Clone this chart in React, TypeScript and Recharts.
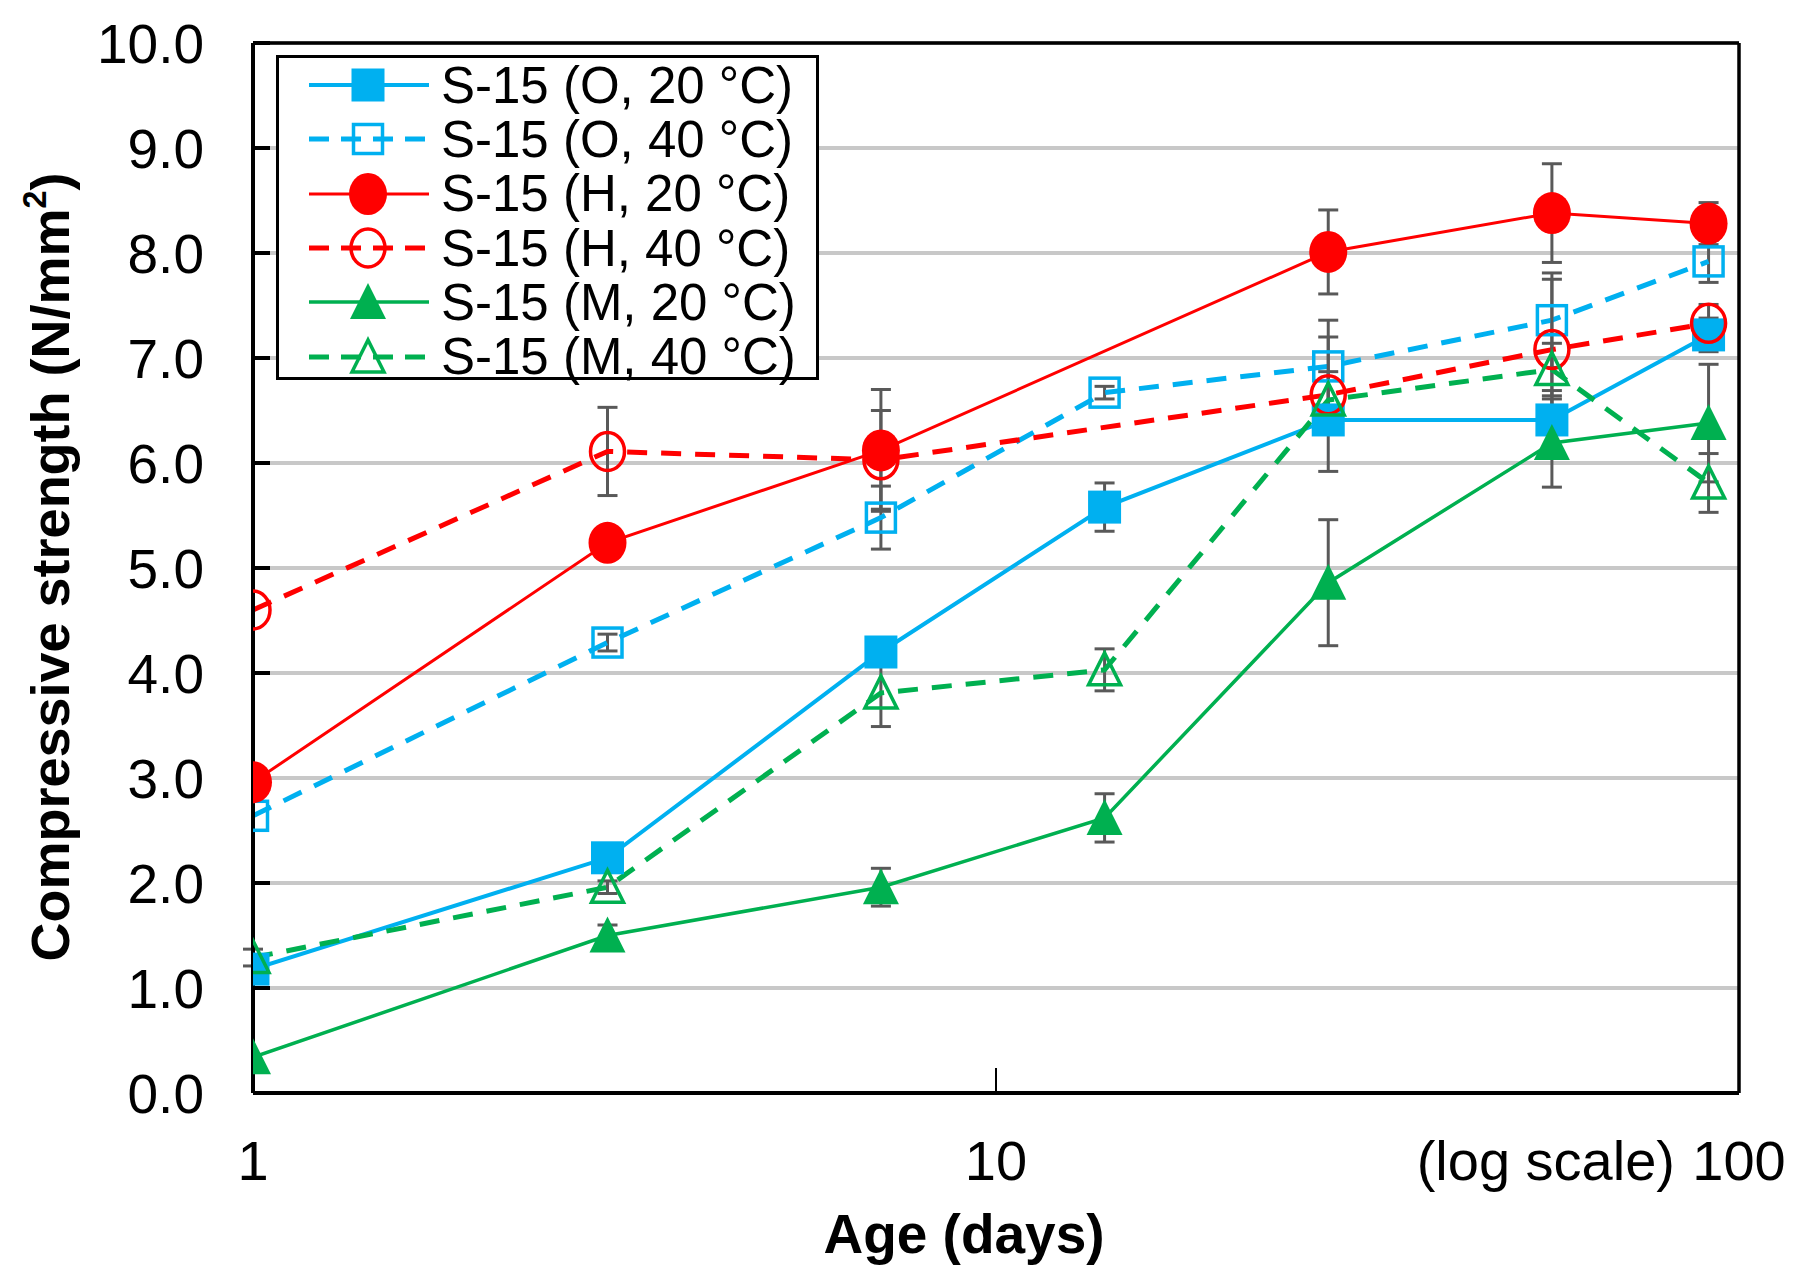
import { LineChart, Line, XAxis, YAxis, CartesianGrid, ErrorBar, ReferenceLine } from 'recharts'

const BLUE = '#00B0F0'
const RED = '#FF0000'
const GREEN = '#00B050'
const BAR = '#595959'
const GRID = '#C8C8C8'
const FONT = '"Liberation Sans", Arial, sans-serif'

// ages (days), log axis
const DAYS = [1, 3, 7, 14, 28, 56, 91]
const DAYS_H = [1, 3, 7, 28, 56, 91]
const X_TICKS = [1, 10, 100]
const Y_TICKS = [0, 1, 2, 3, 4, 5, 6, 7, 8, 9, 10]

// compressive strength, N/mm2  (errors are +/- deltas, or [down, up])
const O20 = [1.18, 2.24, 4.2, 5.58, 6.41, 6.41, 7.22]
const O20_ERR = [0, 0, 0.05, 0.23, 0.1, 0.28, 0.16]
const O40 = [2.64, 4.29, 5.48, 6.67, 6.92, 7.36, 7.92]
const O40_ERR = [0, 0.08, 0.3, 0.06, 0.44, 0.45, 0.2]
const H20 = [2.96, 5.24, 6.12, 8.01, 8.38, 8.28]
const H20_ERR = [0, 0, 0.58, 0.4, 0.47, 0.2]
const H40 = [4.6, 6.11, 6.03, 6.65, 7.08, 7.33]
const H40_ERR = [0, 0.42, 0.47, 0.22, 0.67, 0.18]
const M20 = [0.34, 1.5, 1.96, 2.62, 4.86, 6.19, 6.38]
const M20_ERR = [0, 0.1, 0.18, 0.23, 0.6, 0.42, 0.56]
const M40 = [1.29, 1.96, 3.81, 4.03, 6.6, 6.89, 5.81]
const M40_ERR = [0.08, 0.06, 0.32, 0.2, [0.68, 0.6], 0.25, 0.28]

type Err = number | number[]
const rows = (xs: number[], ys: number[], errs: Err[]) =>
  xs.map((day, i) => ({ day, v: ys[i], err: errs[i] || undefined }))

type Kind = 'sq' | 'sqo' | 'ci' | 'cio' | 'tr' | 'tro'

const SERIES = [
  { name: 'S-15 (O, 20 °C)', color: BLUE, kind: 'sq' as Kind, dash: false, w: 4, data: rows(DAYS, O20, O20_ERR) },
  { name: 'S-15 (O, 40 °C)', color: BLUE, kind: 'sqo' as Kind, dash: true, w: 5, data: rows(DAYS, O40, O40_ERR) },
  { name: 'S-15 (H, 20 °C)', color: RED, kind: 'ci' as Kind, dash: false, w: 3, data: rows(DAYS_H, H20, H20_ERR) },
  { name: 'S-15 (H, 40 °C)', color: RED, kind: 'cio' as Kind, dash: true, w: 5, data: rows(DAYS_H, H40, H40_ERR) },
  { name: 'S-15 (M, 20 °C)', color: GREEN, kind: 'tr' as Kind, dash: false, w: 3.5, data: rows(DAYS, M20, M20_ERR) },
  { name: 'S-15 (M, 40 °C)', color: GREEN, kind: 'tro' as Kind, dash: true, w: 5, data: rows(DAYS, M40, M40_ERR) },
]

function Marker({ cx, cy, kind, color }: { cx: number; cy: number; kind: Kind; color: string }) {
  const open = kind.endsWith('o')
  const fill = open ? 'none' : color
  const sw = open ? 3.5 : 0
  if (kind.startsWith('sq')) {
    const s = open ? 29 : 33
    return <rect x={cx - s / 2} y={cy - s / 2} width={s} height={s} fill={fill} stroke={color} strokeWidth={sw} />
  }
  if (kind.startsWith('ci')) {
    return <ellipse cx={cx} cy={cy} rx={open ? 17 : 19} ry={open ? 19 : 21} fill={fill} stroke={color} strokeWidth={sw} />
  }
  const pts = open
    ? `${cx},${cy - 17} ${cx - 16},${cy + 15} ${cx + 16},${cy + 15}`
    : `${cx},${cy - 19} ${cx - 18},${cy + 17} ${cx + 18},${cy + 17}`
  return <polygon points={pts} fill={fill} stroke={color} strokeWidth={sw} strokeLinejoin="miter" />
}

function XTick({ x, y, payload }: any) {
  const style = { fontFamily: FONT, fontSize: 56, fill: '#000' }
  if (payload.value === 100) {
    return (
      <g>
        <text x={x} y={y} dy="0.71em" textAnchor="middle" style={style}>100</text>
        <text x={x - 64} y={y} dy="0.71em" textAnchor="end" style={style}>(log scale)</text>
      </g>
    )
  }
  return <text x={x} y={y} dy="0.71em" textAnchor="middle" style={style}>{payload.value}</text>
}

function LegendBox() {
  return (
    <div
      style={{
        position: 'absolute', left: 276, top: 55, width: 543, height: 325, boxSizing: 'border-box',
        border: '3.5px solid #000', background: '#fff', fontFamily: FONT, fontSize: 51, color: '#000',
      }}
    >
      {SERIES.map(s => (
        <div key={s.name} style={{ display: 'flex', alignItems: 'center', height: 54.3 }}>
          <svg width={160} height={54} style={{ flex: 'none' }}>
            <line x1={30} x2={150} y1={27} y2={27} stroke={s.color} strokeWidth={s.w}
              strokeDasharray={s.dash ? '20 12' : undefined} />
            <Marker cx={89} cy={27} kind={s.kind} color={s.color} />
          </svg>
          <span style={{ marginLeft: 2, whiteSpace: 'nowrap', lineHeight: 1 }}>{s.name}</span>
        </div>
      ))}
    </div>
  )
}

export default function App() {
  return (
    <div style={{ position: 'absolute', left: 0, top: 0, width: 1800, height: 1286, background: '#fff' }}>
      <LineChart width={1800} height={1286} margin={{ top: 43, right: 61, left: 53, bottom: 43 }}>
        <CartesianGrid horizontal vertical={false} stroke={GRID} strokeWidth={4} />
        <XAxis
          dataKey="day" type="number" scale="log" domain={[1, 100]} ticks={X_TICKS} allowDataOverflow
          height={150} stroke="#000" axisLine={{ strokeWidth: 4 }} tickLine={{ strokeWidth: 2 }}
          tickSize={-25} tickMargin={72} tick={<XTick />} interval={0}
        />
        <YAxis
          type="number" domain={[0, 10]} ticks={Y_TICKS} width={200} stroke="#000"
          axisLine={{ strokeWidth: 4 }} tickLine={{ strokeWidth: 4 }} tickSize={-17} tickMargin={66}
          tickFormatter={(v: number) => v.toFixed(1)} interval={0}
          tick={{ fontFamily: FONT, fontSize: 55, fill: '#000' }}
        />
        {/* plot frame: top and right edges */}
        <ReferenceLine y={10} stroke="#000" strokeWidth={3.5} ifOverflow="extendDomain" />
        <ReferenceLine x={100} stroke="#000" strokeWidth={3.5} ifOverflow="extendDomain" />
        {SERIES.map(s => (
          <Line
            key={s.name}
            data={s.data}
            dataKey="v"
            name={s.name}
            stroke={s.color}
            strokeWidth={s.w}
            strokeDasharray={s.dash ? '20 14' : undefined}
            isAnimationActive={false}
            activeDot={false}
            dot={(p: any) => <Marker key={`${s.name}-${p.index}`} cx={p.cx} cy={p.cy} kind={s.kind} color={s.color} />}
          >
            <ErrorBar dataKey="err" direction="y" width={10} stroke={BAR} strokeWidth={3} isAnimationActive={false} />
          </Line>
        ))}
      </LineChart>
      <LegendBox />
      <div
        style={{
          position: 'absolute', left: 48, top: 567, transform: 'translate(-50%, -50%) rotate(-90deg)',
          whiteSpace: 'nowrap', fontFamily: FONT, fontWeight: 'bold', fontSize: 54, lineHeight: 1, color: '#000',
        }}
      >
        Compressive strength (N/mm<sup style={{ fontSize: '0.6em', verticalAlign: '0.7em' }}>2</sup>)
      </div>
      <div
        style={{
          position: 'absolute', left: 964, top: 1207, transform: 'translateX(-50%)', whiteSpace: 'nowrap',
          fontFamily: FONT, fontWeight: 'bold', fontSize: 55, lineHeight: 1, color: '#000',
        }}
      >
        Age (days)
      </div>
    </div>
  )
}
